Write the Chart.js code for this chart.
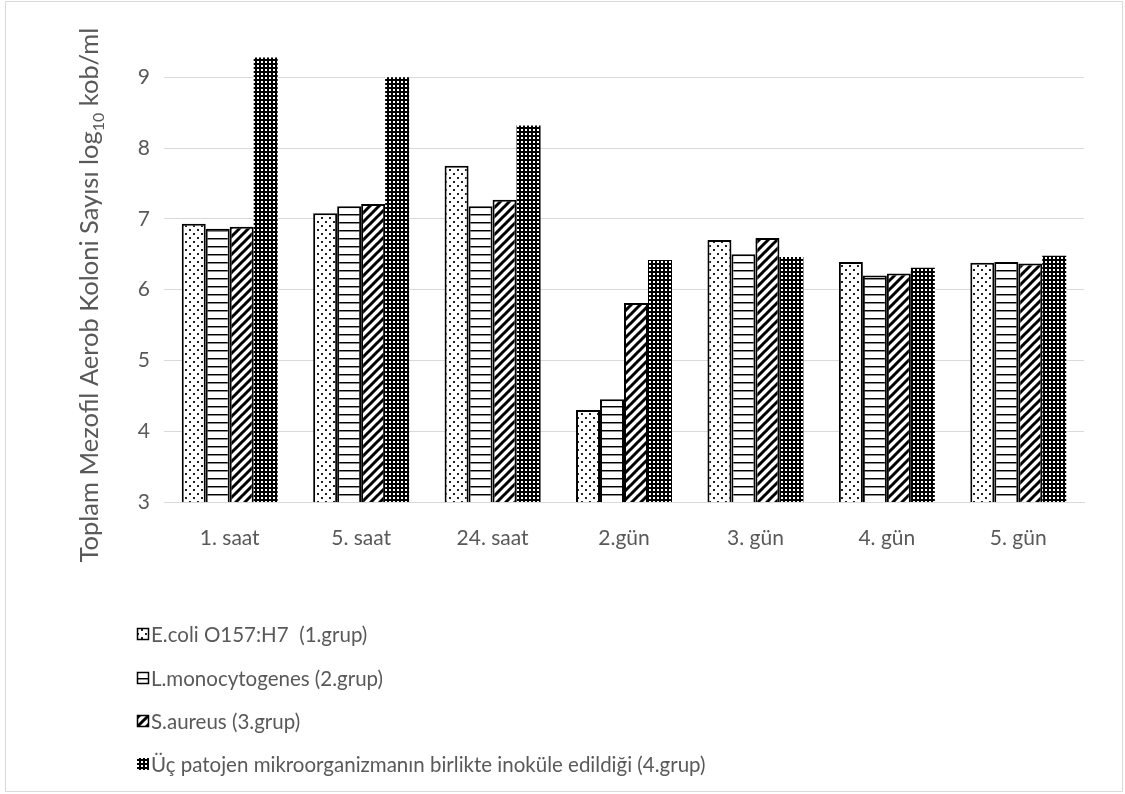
<!DOCTYPE html>
<html>
<head>
<meta charset="utf-8">
<script src="https://cdn.jsdelivr.net/npm/chart.js@4.4.1/dist/chart.umd.min.js"></script>
<style>
  html, body { margin: 0; padding: 0; background: #fff; }
  #wrap { position: relative; width: 1125px; height: 794px; }
</style>
</head>
<body>
<div id="wrap"><canvas id="c" width="1125" height="794"></canvas></div>
<script>
// Toplam mezofil aerob koloni sayısı (log10 kob/ml)
const categories = ['1. saat', '5. saat', '24. saat', '2.gün', '3. gün', '4. gün', '5. gün'];
const ecoli     = [6.93, 7.08, 7.75, 4.30, 6.70, 6.39, 6.38];
const listeria  = [6.86, 7.18, 7.18, 4.45, 6.50, 6.20, 6.39];
const saureus   = [6.89, 7.21, 7.27, 5.81, 6.73, 6.23, 6.37];
const mixed     = [9.28, 9.00, 8.32, 6.42, 6.46, 6.31, 6.48];
const seriesNames = [
  'E.coli O157:H7  (1.grup)',
  'L.monocytogenes (2.grup)',
  'S.aureus (3.grup)',
  'Üç patojen mikroorganizmanın birlikte inoküle edildiği (4.grup)'
];
const yMin = 3, yMax = 9.4, yStep = 1;

const FONT = 'Lato, "Open Sans", sans-serif';
const TEXT = '#595959';

// Hatch fills for the bars
function makePattern(size, draw) {
  const c = document.createElement('canvas');
  c.width = size; c.height = size;
  const g = c.getContext('2d');
  g.fillStyle = '#fff';
  g.fillRect(0, 0, size, size);
  draw(g, size);
  return g.createPattern(c, 'repeat');
}
const dotFill = makePattern(8, (g) => {
  g.fillStyle = '#222';
  g.fillRect(1, 1, 2, 2);
  g.fillRect(5, 5, 2, 2);
});
const hLineFill = makePattern(8, (g, s) => {
  g.fillStyle = '#000';
  g.fillRect(0, 6, s, 1);
  g.fillStyle = '#888';
  g.fillRect(0, 7, s, 1);
});
const diagFill = makePattern(9, (g, s) => {
  g.strokeStyle = '#000';
  g.lineWidth = 3;
  g.beginPath();
  g.moveTo(-2, s + 2); g.lineTo(s + 2, -2);
  g.moveTo(-2, 2); g.lineTo(2, -2);
  g.moveTo(s - 2, s + 2); g.lineTo(s + 2, s - 2);
  g.stroke();
});
const gridFill = makePattern(4, (g) => {
  g.fillStyle = '#000';
  g.fillRect(0, 0, 4, 4);
  g.fillStyle = '#fff';
  g.fillRect(1, 1, 2, 2);
});
const fills = [dotFill, hLineFill, diagFill, gridFill];
const borders = [2, 2, 2, 0];

// Frame, rotated axis title with subscript, and stacked legend
const decor = {
  id: 'decor',
  beforeDraw(chart) {
    const ctx = chart.ctx;
    ctx.save();
    ctx.fillStyle = '#fff';
    ctx.fillRect(0, 0, chart.width, chart.height);
    ctx.restore();
  },
  afterDraw(chart) {
    const ctx = chart.ctx;
    ctx.save();
    ctx.strokeStyle = '#d9d9d9';
    ctx.lineWidth = 1;
    ctx.strokeRect(5.5, 1.5, 1117, 790);

    // y-axis title
    const main = 'Toplam Mezofil Aerob Koloni Sayısı log';
    const sub = '10';
    const tail = ' kob/ml';
    const big = '25.5px ' + FONT, small = '16px ' + FONT;
    ctx.font = big;
    const w1 = ctx.measureText(main).width;
    const w3 = ctx.measureText(tail).width;
    ctx.font = small;
    const w2 = ctx.measureText(sub).width;
    const total = w1 + w2 + w3;
    ctx.translate(90, 295);
    ctx.rotate(-Math.PI / 2);
    ctx.fillStyle = TEXT;
    ctx.textBaseline = 'alphabetic';
    ctx.textAlign = 'left';
    let x = -total / 2;
    ctx.font = big; ctx.fillText(main, x, 8); x += w1;
    ctx.font = small; ctx.fillText(sub, x, 14); x += w2;
    ctx.font = big; ctx.fillText(tail, x, 8);
    ctx.restore();

    // legend
    ctx.save();
    const ys = [634, 678, 721, 764];
    ctx.font = '20.5px ' + FONT;
    ctx.textBaseline = 'middle';
    ctx.textAlign = 'left';
    chart.data.datasets.forEach((ds, i) => {
      const y = ys[i];
      ctx.fillStyle = ds.backgroundColor;
      ctx.fillRect(137, y - 6, 12, 12);
      if (ds.borderWidth) {
        ctx.strokeStyle = '#000';
        ctx.lineWidth = 1.5;
        ctx.strokeRect(137.5, y - 5.5, 11, 11);
      }
      ctx.fillStyle = TEXT;
      ctx.fillText(ds.label, 151, y + 1);
    });
    ctx.restore();
  }
};

const seriesValues = [ecoli, listeria, saureus, mixed];

new Chart(document.getElementById('c'), {
  type: 'bar',
  data: {
    labels: categories,
    datasets: seriesValues.map((vals, i) => ({
      label: seriesNames[i],
      data: vals,
      backgroundColor: fills[i],
      borderColor: '#000',
      borderWidth: borders[i],
      barPercentage: 1,
      categoryPercentage: 0.73
    }))
  },
  options: {
    responsive: false,
    animation: false,
    events: [],
    layout: { padding: { left: 74, top: 49, right: 41, bottom: 232 } },
    plugins: {
      legend: { display: false },
      tooltip: { enabled: false },
      title: { display: false }
    },
    scales: {
      x: {
        grid: { display: false },
        border: { display: true, color: '#d9d9d9', width: 1 },
        ticks: { color: TEXT, font: { family: FONT, size: 21 }, padding: 16 },
        afterFit(scale) { scale.height = 60; }
      },
      y: {
        min: yMin,
        max: yMax,
        grid: { color: '#d9d9d9', lineWidth: 1, drawTicks: false },
        border: { display: false },
        ticks: {
          stepSize: yStep,
          includeBounds: false,
          color: TEXT,
          font: { family: FONT, size: 21 },
          padding: 14
        },
        afterFit(scale) { scale.width = 90; }
      }
    }
  },
  plugins: [decor]
});
</script>
</body>
</html>
